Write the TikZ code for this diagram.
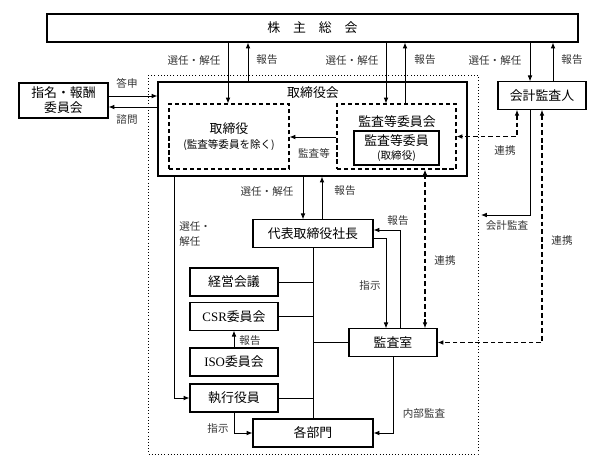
\documentclass[tikz,border=0pt]{standalone}
\usepackage{fontspec}
\setmainfont{Noto Sans CJK JP}
\newfontfamily\latinfont{Liberation Serif}
\usetikzlibrary{arrows.meta}
\tikzset{block/.style = {draw, fill=white, line width=0.9pt, rectangle, minimum width=2.64cm, minimum height=0.82cm, inner sep=1pt, font=\fontsize{11}{13}\selectfont},
         dblock/.style = {draw, fill=white, line width=0.9pt, dash pattern=on 3.5pt off 2.5pt, rectangle, minimum width=3.6cm, minimum height=1.95cm, inner sep=1pt, font=\fontsize{11}{13}\selectfont},
         lbl/.style = {font=\fontsize{9}{11}\selectfont, text=black!80, inner sep=1pt},
         ttl/.style = {font=\fontsize{11}{13}\selectfont, inner sep=1pt},
         arr/.style = {-{Latex[length=5pt,width=4pt]}, line width=0.7pt},
         darr/.style = {{Latex[length=5pt,width=4pt]}-{Latex[length=5pt,width=4pt]}, line width=1pt, dash pattern=on 4pt off 2.5pt}}

\begin{document}
\begin{tikzpicture}[x=0.03cm, y=-0.03cm]
        \useasboundingbox (0,0) rectangle (610,469);

        % outer frame
        \draw[line width=0.7pt, dotted] (148,75) rectangle (478,454);

        \node[block, minimum width=15.93cm, minimum height=0.84cm] (soukai) at (312.5,28) {株\quad 主\quad 総\quad 会};
        \node[block, minimum width=2.67cm, minimum height=1.05cm, align=center, font=\fontsize{11}{12.7}\selectfont] (shimei) at (63.5,100.5) {指名・報酬\\委員会};
        \node[block, minimum width=9.27cm, minimum height=2.82cm] (torikai) at (312.5,129) {};
        \node[ttl] (torikaititle) at (313,93) {取締役会};
        \node[dblock, align=center] (torishimari) at (229,136.5) {取締役\\{\fontsize{9}{10}\selectfont (監査等委員を除く)}};
        \node[dblock, minimum width=3.57cm] (kansaiinkai) at (396.5,136.5) {};
        \node[ttl] (kansaiinkaititle) at (397,122) {監査等委員会};
        \node[block, minimum width=2.55cm, minimum height=1.02cm, align=center, font=\fontsize{11}{12}\selectfont] (kansaiin) at (396.5,148) {監査等委員\\{\fontsize{9}{10}\selectfont (取締役)}};
        \node[block] (kaikei) at (542,95.5) {会計監査人};

        \node[block, minimum width=3.6cm] (daihyo) at (313,233.5) {代表取締役社長};
        \node[block, minimum height=0.84cm] (keiei) at (234,282) {経営会議};
        \node[block] (csr) at (234,316.5) {{\latinfont CSR}委員会};
        \node[block, minimum height=0.84cm] (iso) at (234,362) {{\latinfont ISO}委員会};
        \node[block, minimum height=0.84cm] (shikko) at (234,398) {執行役員};
        \node[block, minimum width=3.6cm, minimum height=0.84cm] (kakubu) at (313,433) {各部門};
        \node[block] (kansashitsu) at (393,342.5) {監査室};

        % shareholders meeting
        \draw[arr] (soukai.south -| 228,0) -- (torishimari.north -| 228,0);
        \draw[arr] (torikai.north -| 248,0) -- (soukai.south -| 248,0);
        \draw[arr] (soukai.south -| 386,0) -- (kansaiinkai.north -| 386,0);
        \draw[arr] (kansaiinkai.north -| 405,0) -- (soukai.south -| 405,0);
        \draw[arr] (soukai.south -| 530,0) -- (kaikei.north -| 530,0);
        \draw[arr] (kaikei.north -| 553,0) -- (soukai.south -| 553,0);
        \node[lbl] at (194,60) {選任・解任};
        \node[lbl] at (267,60) {報告};
        \node[lbl] at (352,60) {選任・解任};
        \node[lbl] at (425,60) {報告};
        \node[lbl] at (495,60) {選任・解任};
        \node[lbl] at (572,60) {報告};

        % committee
        \draw[arr] (shimei.east |- 0,96) -- (torikai.west |- 0,96);
        \draw[arr] (torikai.west |- 0,107) -- (shimei.east |- 0,107);
        \node[lbl] at (127,83) {答申};
        \node[lbl] at (127,120) {諮問};

        \draw[arr] (kansaiinkai.west |- 0,137) -- (torishimari.east |- 0,137);
        \node[lbl] at (314,153) {監査等};

        % accounting auditor
        \coordinate (kaikeiend) at (481,215);
        \draw[darr] (kaikei.south -| 517,0) |- (kansaiinkai.east);
        \draw[arr] (kaikei.south -| 530,0) |- (kaikeiend);
        \draw[darr] (kaikei.south -| 542,0) |- (kansashitsu.east);
        \draw[darr] (kansaiinkai.south -| 425,0) -- (kansashitsu.north -| 425,0);
        \node[lbl] at (505,150) {連携};
        \node[lbl] at (507,226) {会計監査};
        \node[lbl] at (562,240) {連携};
        \node[lbl] at (445,260) {連携};

        % executive side
        \draw[arr] (torikai.south -| 303,0) -- (daihyo.north -| 303,0);
        \draw[arr] (daihyo.north -| 322,0) -- (torikai.south -| 322,0);
        \node[lbl] at (267,191) {選任・解任};
        \node[lbl] at (345,191) {報告};
        \draw[arr] (torikai.south -| 174,0) |- (shikko.west);
        \node[lbl, anchor=west, align=left, font=\fontsize{9}{13}\selectfont] at (178,234) {選任・\\解任};

        \draw[arr] (kansashitsu.north -| 400,0) |- (daihyo.east |- 0,230);
        \draw[arr] (daihyo.east |- 0,238) -| (kansashitsu.north -| 386,0);
        \node[lbl] at (398,221) {報告};
        \node[lbl] at (370,285) {指示};

        \draw[line width=0.7pt] (daihyo.south) -- (kakubu.north);
        \draw[line width=0.7pt] (keiei.east) -- (keiei.east -| daihyo.south);
        \draw[line width=0.7pt] (csr.east) -- (csr.east -| daihyo.south);
        \draw[line width=0.7pt] (shikko.east) -- (shikko.east -| daihyo.south);
        \draw[line width=0.7pt] (kansashitsu.west) -- (kansashitsu.west -| daihyo.south);

        \draw[arr] (iso.north) -- (csr.south);
        \node[lbl] at (250,341) {報告};
        \draw[arr] (shikko.south) |- (kakubu.west);
        \node[lbl] at (218,428) {指示};
        \draw[arr] (kansashitsu.south) |- (kakubu.east);
        \node[lbl] at (424,413) {内部監査};
    \end{tikzpicture}
\end{document}
